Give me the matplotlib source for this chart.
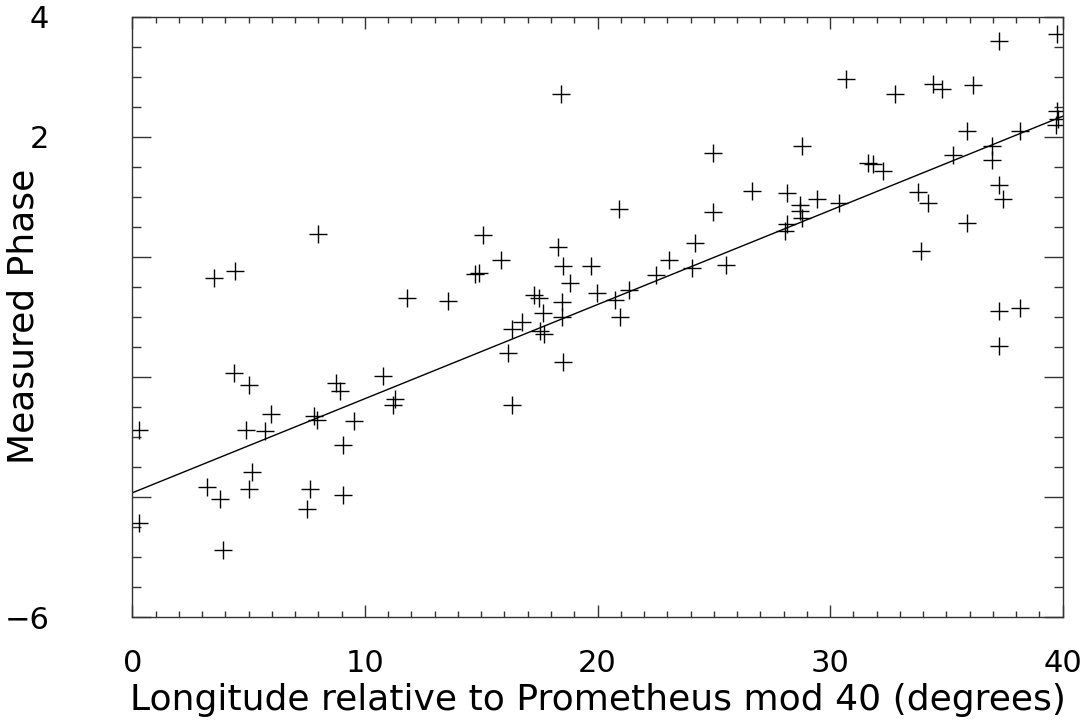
import matplotlib
matplotlib.use("Agg")
import matplotlib.pyplot as plt
from matplotlib.ticker import MultipleLocator

# values
longitude = [
    3.51, 4.43, 8.0, 11.82, 4.38, 5.02, 5.96, 4.88, 5.68, 0.29,
    7.8, 7.92, 8.76, 8.92, 10.79, 11.27, 11.22, 9.53, 9.05, 5.15,
    3.19, 5.02, 3.76, 7.63, 7.49, 9.04, 0.29, 3.88,
    18.42, 24.98, 20.91, 24.98, 26.63, 15.06, 18.31, 15.85, 24.19, 14.73,
    14.92, 18.5, 19.71, 23.09, 24.05, 25.53, 22.52, 18.82, 21.37, 19.99,
    17.29, 17.48, 13.56, 18.47, 20.75, 17.67, 18.46, 20.96, 16.74, 16.31,
    17.53, 17.7, 16.14, 18.5, 16.31,
    39.77, 37.28, 30.69, 34.44, 34.8, 36.16, 32.8, 39.75, 39.8, 39.7,
    38.17, 35.88, 28.78, 36.96, 36.96, 35.28, 31.65, 31.85, 32.29, 37.28,
    37.45, 28.14, 33.78, 34.23, 28.7, 28.73, 28.8, 29.43, 30.39, 28.14,
    28.06, 35.88, 33.91, 37.28, 38.17, 37.28,
]
phase = [
    -0.35, -0.23, 0.38, -0.68, -1.93, -2.13, -2.62, -2.88, -2.90, -2.89,
    -2.65, -2.72, -2.1, -2.24, -1.98, -2.37, -2.47, -2.74, -3.13, -3.59,
    -3.84, -3.86, -4.04, -3.87, -4.2, -3.96, -4.44, -4.88,
    2.71, 1.73, 0.79, 0.74, 1.1, 0.36, 0.17, -0.05, 0.23, -0.29,
    -0.27, -0.15, -0.16, -0.05, -0.19, -0.13, -0.3, -0.43, -0.56, -0.61,
    -0.63, -0.69, -0.73, -0.76, -0.72, -0.94, -1.0, -1.0, -1.08, -1.2,
    -1.24, -1.28, -1.61, -1.76, -2.47,
    3.71, 3.59, 2.96, 2.88, 2.8, 2.86, 2.72, 2.43, 2.3, 2.2,
    2.09, 2.1, 1.84, 1.84, 1.62, 1.7, 1.56, 1.54, 1.43, 1.2,
    0.96, 1.07, 1.08, 0.89, 0.87, 0.77, 0.64, 0.96, 0.89, 0.55,
    0.43, 0.56, 0.1, -0.91, -0.86, -1.49,
]

# fitted line, end points
fit_x = [0, 40]
fit_y = [-3.93, 2.34]

# y tick labels: the ones under the axis title are left blank
y_ticks = [-6, -4, -2, 0, 2, 4]
y_ticklabels = ['\u22126', '', '', '', '2', '4']

plt.rcParams['font.family'] = ['DejaVu Sans']

fig = plt.figure(figsize=(10.84, 7.22), dpi=100)
ax = fig.add_axes([0.1222, 0.1454, 0.858, 0.8315])

ax.plot(longitude, phase, '+', color='black', markersize=12.5, markeredgewidth=1.0)
ax.plot(fit_x, fit_y, '-', color='black', linewidth=1.0)

ax.set_xlim(0, 40)
ax.set_ylim(-6, 4)
ax.xaxis.set_major_locator(MultipleLocator(10))
ax.xaxis.set_minor_locator(MultipleLocator(1))
ax.set_yticks(y_ticks)
ax.set_yticklabels(y_ticklabels)
ax.yaxis.set_minor_locator(MultipleLocator(0.5))

ax.tick_params(axis='both', which='both', direction='in', top=True, right=True,
               labelsize=22, width=1.0, color='#333333')
ax.tick_params(axis='x', which='major', length=8.6, pad=23)
ax.tick_params(axis='x', which='minor', length=4.3)
ax.tick_params(axis='y', which='major', length=13.4, pad=60)
ax.tick_params(axis='y', which='minor', length=6.5)
for s in ax.spines.values():
    s.set_color('#333333')
    s.set_linewidth(1.0)

ax.set_xlabel('Longitude relative to Prometheus mod 40 (degrees)', fontsize=26)
ax.set_ylabel('Measured Phase', fontsize=26)
ax.xaxis.set_label_coords(0.5, -0.11)
ax.yaxis.set_label_coords(-0.099, 0.5)

fig.savefig('out.png', dpi=100)
